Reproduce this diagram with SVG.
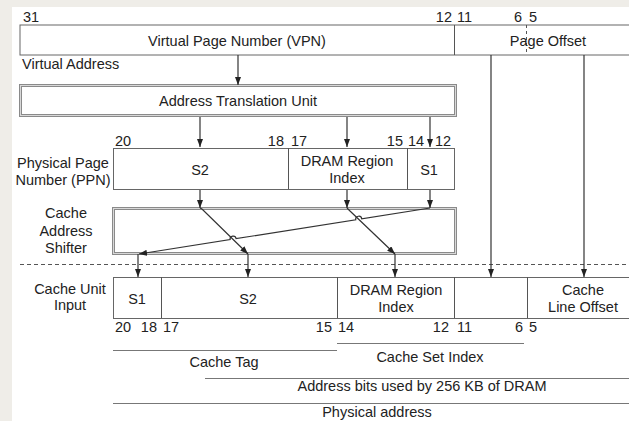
<svg xmlns="http://www.w3.org/2000/svg" width="629" height="421" viewBox="0 0 629 421">
  <defs>
    <marker id="arrow" viewBox="0 0 8 6" refX="8" refY="3" markerWidth="8" markerHeight="6" markerUnits="userSpaceOnUse" orient="auto">
      <path d="M0,0 L8,3 L0,6 z" fill="#222"/>
    </marker>
    <style>
      text { font-family: "Liberation Sans", Arial, sans-serif; font-size: 14.5px; fill: #222; }
      .mid { text-anchor: middle; }
      .end { text-anchor: end; }
      .box { fill: #fff; stroke: #666; stroke-width: 1; }
      .div { stroke: #555; stroke-width: 1; fill: none; }
      .dbl-out { fill: #fff; stroke: #8a8a8a; stroke-width: 3; }
      .dbl-in { fill: none; stroke: #d8d8d8; stroke-width: 1; }
      .wire { stroke: #333; stroke-width: 1.2; fill: none; }
      .arr { stroke: #333; stroke-width: 1.2; fill: none; marker-end: url(#arrow); }
      .rule { stroke: #777; stroke-width: 1; fill: none; }
    </style>
  </defs>

  <!-- page -->
  <rect x="0" y="0" width="629" height="421" fill="#efede8"/>
  <rect x="12" y="7" width="617" height="414" fill="#fff"/>

  <!-- virtual address -->
  <g id="virtual-address">
    <rect class="box" x="20" y="25" width="620" height="30"/>
    <line class="div" x1="454.5" y1="25" x2="454.5" y2="55"/>
    <line class="div" x1="526.5" y1="25" x2="526.5" y2="55" stroke-dasharray="3,3"/>
    <text x="23" y="22">31</text>
    <text class="end" x="452" y="22">12</text>
    <text x="457" y="22">11</text>
    <text class="end" x="522" y="22">6</text>
    <text x="529" y="22">5</text>
    <text class="mid" x="237" y="46">Virtual Page Number (VPN)</text>
    <text class="mid" x="548" y="46">Page Offset</text>
    <text x="22" y="69">Virtual Address</text>
  </g>

  <!-- address translation unit -->
  <g id="atu">
    <rect class="dbl-out" x="20.5" y="85.5" width="435" height="30"/>
    <rect class="dbl-in" x="20.5" y="85.5" width="435" height="30"/>
    <text class="mid" x="238" y="106">Address Translation Unit</text>
  </g>

  <!-- physical page number -->
  <g id="ppn">
    <rect class="box" x="113.5" y="148.5" width="341" height="41"/>
    <line class="div" x1="288.5" y1="148" x2="288.5" y2="189"/>
    <line class="div" x1="407.5" y1="148" x2="407.5" y2="189"/>
    <text x="115" y="146">20</text>
    <text class="end" x="284" y="146">18</text>
    <text x="291" y="146">17</text>
    <text class="end" x="403" y="146">15</text>
    <text x="408" y="146">14</text>
    <text x="435" y="146">12</text>
    <text class="mid" x="200" y="175">S2</text>
    <text class="mid" x="347" y="166">DRAM Region</text>
    <text class="mid" x="347" y="183">Index</text>
    <text class="mid" x="429" y="175">S1</text>
    <text class="mid" x="63" y="168">Physical Page</text>
    <text class="mid" x="63" y="185">Number (PPN)</text>
  </g>

  <!-- cache address shifter -->
  <g id="shifter">
    <rect class="dbl-out" x="113.5" y="208.5" width="342" height="45"/>
    <rect class="dbl-in" x="113.5" y="208.5" width="342" height="45"/>
    <text class="mid" x="66" y="218">Cache</text>
    <text class="mid" x="66" y="236">Address</text>
    <text class="mid" x="66" y="253">Shifter</text>
  </g>

  <!-- divider between translation and cache -->
  <line x1="20" y1="264.5" x2="629" y2="264.5" stroke="#555" stroke-width="1" stroke-dasharray="4,3"/>

  <!-- cache unit input -->
  <g id="cache-input">
    <rect class="box" x="113.5" y="277.5" width="527" height="41"/>
    <line class="div" x1="161.5" y1="277" x2="161.5" y2="318"/>
    <line class="div" x1="337.5" y1="277" x2="337.5" y2="318"/>
    <line class="div" x1="454.5" y1="277" x2="454.5" y2="318"/>
    <line class="div" x1="527.5" y1="277" x2="527.5" y2="318"/>
    <text class="mid" x="70" y="294">Cache Unit</text>
    <text class="mid" x="70" y="310">Input</text>
    <text class="mid" x="137" y="304">S1</text>
    <text class="mid" x="248" y="304">S2</text>
    <text class="mid" x="396" y="295">DRAM Region</text>
    <text class="mid" x="396" y="312">Index</text>
    <text class="mid" x="583" y="295">Cache</text>
    <text class="mid" x="583" y="312">Line Offset</text>
    <text x="115" y="332">20</text>
    <text class="end" x="157" y="332">18</text>
    <text x="163" y="332">17</text>
    <text class="end" x="332" y="332">15</text>
    <text x="338" y="332">14</text>
    <text class="end" x="449" y="332">12</text>
    <text x="457" y="332">11</text>
    <text class="end" x="523" y="332">6</text>
    <text x="529" y="332">5</text>
  </g>

  <!-- bit field spans -->
  <g id="spans">
    <line class="rule" x1="113" y1="350.5" x2="337" y2="350.5"/>
    <text class="mid" x="224" y="367">Cache Tag</text>
    <line class="rule" x1="337" y1="343.5" x2="524" y2="343.5"/>
    <text class="mid" x="430" y="362">Cache Set Index</text>
    <line class="rule" x1="205" y1="378.5" x2="629" y2="378.5"/>
    <text class="mid" x="422" y="391">Address bits used by 256 KB of DRAM</text>
    <line class="rule" x1="113" y1="403.5" x2="629" y2="403.5"/>
    <text class="mid" x="377" y="417">Physical address</text>
  </g>

  <!-- connectors -->
  <g id="connectors">
    <line class="arr" x1="238" y1="55" x2="238" y2="85"/>
    <line class="arr" x1="200" y1="117" x2="200" y2="147"/>
    <line class="arr" x1="347" y1="117" x2="347" y2="147"/>
    <line class="arr" x1="430" y1="117" x2="430" y2="147"/>
    <line class="arr" x1="200" y1="190" x2="200" y2="208"/>
    <line class="arr" x1="347" y1="190" x2="347" y2="208"/>
    <line class="arr" x1="430" y1="190" x2="430" y2="208"/>
    <!-- S2 moves to the low end of the tag -->
    <path class="arr" d="M200,208 L202,209 L248,254"/>
    <line class="arr" x1="248" y1="254" x2="248" y2="277"/>
    <!-- DRAM region index moves into the set index -->
    <path class="arr" d="M347,208 L350,211 L395,254"/>
    <line class="arr" x1="395" y1="254" x2="395" y2="277"/>
    <!-- S1 moves to the top of the tag, hopping over the other two -->
    <path class="arr" d="M430,208 L361.75,218.79 A3,3 0 0 0 355.75,219.74 L236.12,238.65 A3,3 0 0 0 230.12,239.6 L139,254"/>
    <line class="arr" x1="138" y1="254" x2="138" y2="277"/>
    <!-- page offset bits pass straight through -->
    <line class="arr" x1="491" y1="55" x2="491" y2="277"/>
    <line class="arr" x1="584" y1="55" x2="584" y2="277"/>
  </g>
</svg>
